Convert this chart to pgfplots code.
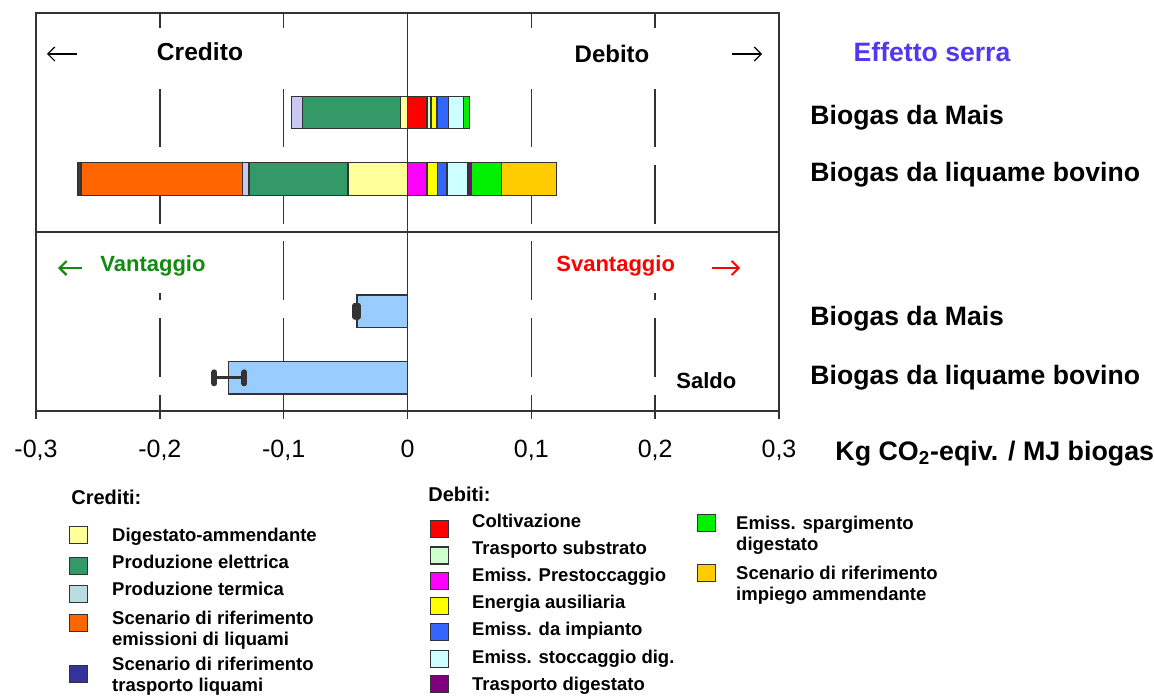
\documentclass[border=0pt]{standalone}
\usepackage{pgfplots}
\pgfplotsset{compat=1.18}
\usetikzlibrary{arrows.meta}
\usepackage{fontspec}
\setmainfont{Liberation Sans}

\definecolor{dig}{HTML}{FFFF99}
\definecolor{ele}{HTML}{339966}
\definecolor{terL}{HTML}{B8DCE0}
\definecolor{terB}{HTML}{C8C8F0}
\definecolor{ora}{HTML}{FF6600}
\definecolor{nav}{HTML}{333399}
\definecolor{col}{HTML}{FF0000}
\definecolor{lgr}{HTML}{CCFFCC}
\definecolor{mag}{HTML}{FF00FF}
\definecolor{yel}{HTML}{FFFF00}
\definecolor{blu}{HTML}{3366FF}
\definecolor{cya}{HTML}{CCFFFF}
\definecolor{pur}{HTML}{800080}
\definecolor{gre}{HTML}{00F000}
\definecolor{ory}{HTML}{FFCC00}
\definecolor{sal}{HTML}{99CCFF}
\definecolor{serra}{HTML}{5038F0}
\definecolor{vant}{HTML}{128A12}
\definecolor{edge}{HTML}{333333}

\newcommand\fs[1]{\bfseries\fontsize{#1}{#1}\selectfont}
\newcommand\st{\rule[-1.9pt]{0pt}{8.8pt}}

\tikzset{
  gl/.style={edge, line width=0.75pt, dash pattern=on 29.5pt off 8.875pt, dash phase=1pt},
  ln/.style={edge, line width=0.75pt},
}
\pgfplotsset{
  panel/.style={at={(18pt,-6.5pt)}, anchor=north west, scale only axis,
    width=371.5pt, height=199pt, xmin=-0.3, xmax=0.3, ymin=13, ymax=411,
    y dir=reverse},
  leg/.style={anchor=south west, scale only axis, width=1pt, height=1pt,
    hide axis, xmin=0, xmax=1, ymin=0, ymax=1, legend cell align=left,
    legend style={at={(0,0)}, anchor=west, draw=none, fill=none,
      inner sep=0pt, outer sep=0pt, row sep=0pt,
      font=\bfseries\fontsize{9.25}{10.5}\selectfont,
      nodes={inner sep=0pt, align=left}}},
}

% one legend entry: square left x (px), text centre y (px), colour,
% square centre y (px), gap to text, text
\newcommand\legitem[6]{%
\begin{axis}[leg, at={(#1*0.5pt,-#2*0.5pt)}, legend style={column sep=#5}]
\addlegendimage{legend image code/.code={%
  \path[draw=none, fill=none] (0pt,-12pt) rectangle (9pt,12pt);
  \draw[fill=#3, draw=edge, line width=0.6pt]
    (0pt,{-(#4-#2)*0.5pt-4.25pt}) rectangle (9pt,{-(#4-#2)*0.5pt+4.25pt});}}
\addlegendentry{#6}
\end{axis}}

\begin{document}
\begin{tikzpicture}
\useasboundingbox (0,0) rectangle (577pt,-347.5pt);

% frame, grid and balance bars
\begin{axis}[panel,
  xtick={-0.3,-0.2,-0.1,0.1,0.2,0.3}, extra x ticks={0},
  ytick=\empty, xtick pos=left, tick align=outside, major tick length=4pt,
  axis line style={edge, line width=0.75pt},
  every tick/.style={edge, line width=0.75pt},
  x tick label style={font=\fontsize{12.5}{14}\selectfont, yshift=-6.8pt},
  /pgf/number format/.cd, use comma, assume math mode=true,
]
\draw[gl] (axis cs:-0.2,13) -- (axis cs:-0.2,411);
\draw[gl] (axis cs:-0.1,13) -- (axis cs:-0.1,411);
\draw[gl] (axis cs:0.1,13) -- (axis cs:0.1,411);
\draw[gl] (axis cs:0.2,13) -- (axis cs:0.2,411);
% white boxes behind the header texts
\fill[white] (axis cs:-0.295,28) rectangle (axis cs:0.295,89);
\fill[white] (axis cs:-0.2524,241) rectangle (axis cs:-0.1597,293);
\fill[white] (axis cs:0.1145,241) rectangle (axis cs:0.2194,293);
\draw[ln] (axis cs:0,13) -- (axis cs:0,411);
\draw[ln] (axis cs:-0.3,232) -- (axis cs:0.3,232);
\addplot[xbar, bar width=16.25pt, fill=sal, draw=edge, line width=0.7pt,
  error bars/.cd, x dir=both, x explicit, error mark=|,
  error bar style={line width=1.5pt, edge},
  error mark options={line width=3pt, edge, mark size=2.75pt, line cap=round}]
  coordinates {(-0.0409,311.3) += (0.0010,0) -= (0.0014,0)
               (-0.1444,377.8) += (0.0127,0) -= (0.0115,0)};
\end{axis}

% stacked credit / debit bars: rows = Mais(-), Liquame(-), Mais(+), Liquame(+)
\begin{axis}[panel, hide axis, xbar stacked, bar width=16.25pt,
  every axis plot/.append style={draw=edge, line width=0.7pt}]
\addplot[fill=dig] coordinates {(-0.0056,112.5) (-0.0481,179) (0,112.5) (0,179)};
\addplot[fill=ele] coordinates {(-0.0793,112.5) (-0.0798,179) (0,112.5) (0,179)};
\addplot[fill=terB] coordinates {(-0.0086,112.5) (-0.0054,179) (0,112.5) (0,179)};
\addplot[fill=ora] coordinates {(0,112.5) (-0.1303,179) (0,112.5) (0,179)};
\addplot[fill=nav] coordinates {(0,112.5) (-0.0025,179) (0,112.5) (0,179)};
\addplot[fill=col] coordinates {(0,112.5) (0,179) (0.0159,112.5) (0,179)};
\addplot[fill=lgr] coordinates {(0,112.5) (0,179) (0.0032,112.5) (0,179)};
\addplot[fill=mag] coordinates {(0,112.5) (0,179) (0,112.5) (0.0159,179)};
\addplot[fill=yel] coordinates {(0,112.5) (0,179) (0.0048,112.5) (0.0081,179)};
\addplot[fill=blu] coordinates {(0,112.5) (0,179) (0.0091,112.5) (0.0078,179)};
\addplot[fill=cya] coordinates {(0,112.5) (0,179) (0.0123,112.5) (0.0169,179)};
\addplot[fill=pur] coordinates {(0,112.5) (0,179) (0,112.5) (0.0030,179)};
\addplot[fill=gre] coordinates {(0,112.5) (0,179) (0.0046,112.5) (0.0242,179)};
\addplot[fill=ory] coordinates {(0,112.5) (0,179) (0,112.5) (0.0444,179)};
\end{axis}

% legend: Crediti
\legitem{69}{536.4}{dig}{535}{12pt}{\st Digestato-ammendante}
\legitem{69}{563.4}{ele}{565.6}{12pt}{\st Produzione elettrica}
\legitem{69}{590.4}{terL}{594}{12pt}{\st Produzione termica}
\legitem{69}{629.4}{ora}{623}{12pt}{\st Scenario di riferimento\\\st emissioni di liquami}
\legitem{69}{675.4}{nav}{674}{12pt}{\st Scenario di riferimento\\\st trasporto liquami}
% legend: Debiti
\legitem{430}{522.4}{col}{529}{11.5pt}{\st Coltivazione}
\legitem{430}{549.4}{lgr}{555.5}{11.5pt}{\st Trasporto substrato}
\legitem{430}{576.4}{mag}{581}{11.5pt}{\st Emiss. Prestoccaggio}
\legitem{430}{603.4}{yel}{606}{11.5pt}{\st Energia ausiliaria}
\legitem{430}{630.4}{blu}{632}{11.5pt}{\st Emiss. da impianto}
\legitem{430}{658.4}{cya}{659}{11.5pt}{\st Emiss. stoccaggio dig.}
\legitem{430}{685.4}{pur}{684}{11.5pt}{\st Trasporto digestato}
\legitem{697}{534.9}{gre}{523}{10pt}{\st Emiss. spargimento\\\st digestato}
\legitem{697}{584.9}{ory}{573}{10pt}{\st Scenario di riferimento\\\st impiego ammendante}

% annotations, in pixel units of the reference
\begin{scope}[x=0.5pt, y=-0.5pt, every node/.style={inner sep=0pt},
  arr/.style={-{Straight Barb[length=3.5pt,width=7pt]}, line width=0.6pt}]
\node[anchor=mid, font=\fs{12.3}] at (200,55) {Credito};
\node[anchor=mid, font=\fs{12}] at (612,57) {Debito};
\draw[arr] (77,54) -- (47,54);
\draw[arr] (732,54) -- (762,54);
\node[anchor=mid, font=\fs{13.3}, text=serra] at (932,56) {Effetto serra};
\node[anchor=mid west, font=\fs{13.3}] at (810,119) {Biogas da Mais};
\node[anchor=mid west, font=\fs{13.3}] at (810,176) {Biogas da liquame bovino};
\node[anchor=mid west, font=\fs{13.3}] at (810,320) {Biogas da Mais};
\node[anchor=mid west, font=\fs{13.3}] at (810,379) {Biogas da liquame bovino};
\node[anchor=mid west, font=\fs{11}, text=vant] at (100,266) {Vantaggio};
\draw[arr, vant, line width=1.1pt] (82,268) -- (58,268);
\node[anchor=mid west, font=\fs{11}, text=red] at (556,266) {Svantaggio};
\draw[arr, red, line width=0.9pt] (712,268) -- (740,268);
\node[anchor=mid west, font=\fs{11}] at (676,383) {Saldo};
\node[anchor=mid west, font=\fs{13.4}] at (835,455) {Kg CO\textsubscript{2}-eqiv. / MJ biogas};
\node[anchor=mid west, font=\fs{10}] at (71,499) {Crediti:};
\node[anchor=mid west, font=\fs{10}] at (428,496) {Debiti:};
\end{scope}
\end{tikzpicture}
\end{document}
